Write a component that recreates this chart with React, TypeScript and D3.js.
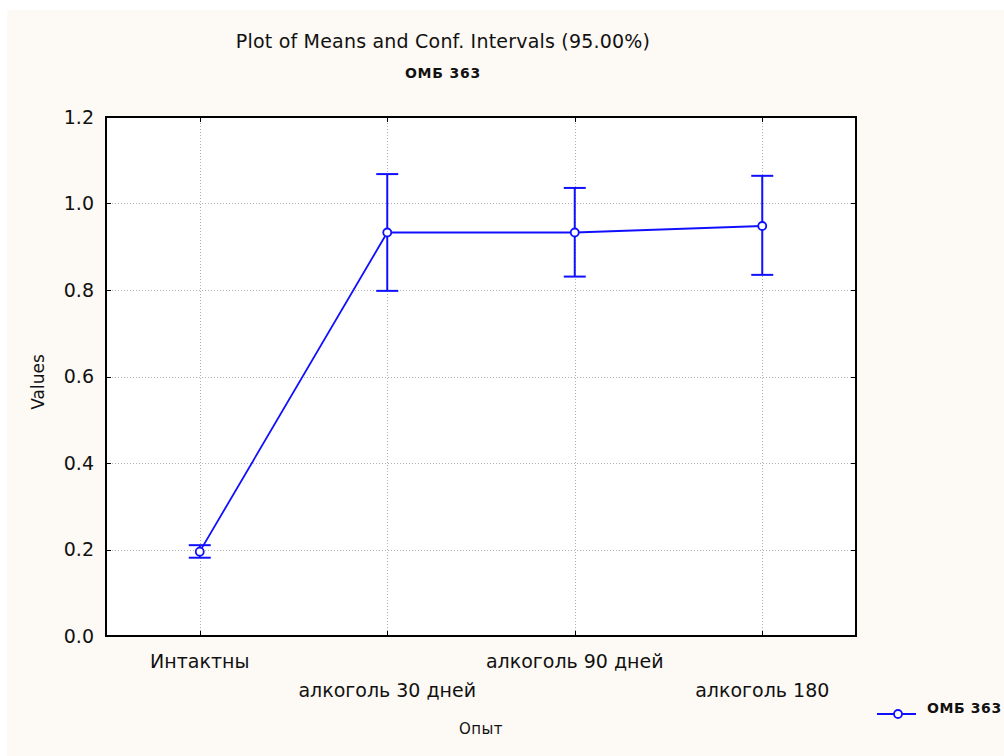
import { useEffect, useRef } from 'react';
import * as d3 from 'd3';

// categories and values
const groups = ['Интактны', 'алкоголь 30 дней', 'алкоголь 90 дней', 'алкоголь 180'];
const means = [0.195, 0.933, 0.933, 0.948];
const lowerCI = [0.181, 0.798, 0.831, 0.835];
const upperCI = [0.210, 1.068, 1.036, 1.064];
const yTicks = [0.0, 0.2, 0.4, 0.6, 0.8, 1.0, 1.2];
const seriesName = 'ОМБ 363';

const W = 1004;
const H = 756;
const blue = '#1010ff';
const font = '"DejaVu Sans", Verdana, sans-serif';

const App = () => {
  const svgRef = useRef<SVGSVGElement | null>(null);

  useEffect(() => {
    if (!svgRef.current) return;
    const svg = d3.select(svgRef.current);
    svg.selectAll('*').remove();

    const plot = { left: 106, top: 117, right: 856, bottom: 636 };

    // background
    svg.append('rect')
      .attr('x', 7).attr('y', 10)
      .attr('width', W - 7).attr('height', H - 10)
      .attr('fill', '#fdf9f4');

    const x = d3.scalePoint<string>()
      .domain(groups)
      .range([plot.left, plot.right])
      .padding(0.5);

    const y = d3.scaleLinear()
      .domain([0, 1.2])
      .range([plot.bottom, plot.top]);

    svg.append('rect')
      .attr('x', plot.left).attr('y', plot.top)
      .attr('width', plot.right - plot.left)
      .attr('height', plot.bottom - plot.top)
      .attr('fill', '#ffffff');

    // grid
    const grid = svg.append('g')
      .attr('stroke', '#b0b0b0')
      .attr('stroke-width', 1)
      .attr('stroke-dasharray', '1,2');
    grid.selectAll('line.h')
      .data(yTicks.slice(1, -1))
      .join('line')
      .attr('x1', plot.left).attr('x2', plot.right)
      .attr('y1', d => Math.round(y(d)) + 0.5).attr('y2', d => Math.round(y(d)) + 0.5);
    grid.selectAll('line.v')
      .data(groups)
      .join('line')
      .attr('x1', d => Math.round(x(d)!) + 0.5).attr('x2', d => Math.round(x(d)!) + 0.5)
      .attr('y1', plot.top).attr('y2', plot.bottom);

    // tick marks (inside)
    const ticks = svg.append('g').attr('stroke', '#000').attr('stroke-width', 1);
    yTicks.forEach(t => {
      const yy = Math.round(y(t)) + 0.5;
      ticks.append('line').attr('x1', plot.left).attr('x2', plot.left + 5).attr('y1', yy).attr('y2', yy);
      ticks.append('line').attr('x1', plot.right - 5).attr('x2', plot.right).attr('y1', yy).attr('y2', yy);
    });
    groups.forEach(g => {
      const xx = Math.round(x(g)!) + 0.5;
      ticks.append('line').attr('x1', xx).attr('x2', xx).attr('y1', plot.bottom - 5).attr('y2', plot.bottom);
      ticks.append('line').attr('x1', xx).attr('x2', xx).attr('y1', plot.top).attr('y2', plot.top + 5);
    });

    // frame
    svg.append('rect')
      .attr('x', plot.left).attr('y', plot.top)
      .attr('width', plot.right - plot.left)
      .attr('height', plot.bottom - plot.top)
      .attr('fill', 'none')
      .attr('stroke', '#000')
      .attr('stroke-width', 2);

    // y tick labels
    svg.append('g')
      .selectAll('text')
      .data(yTicks)
      .join('text')
      .attr('x', plot.left - 12)
      .attr('y', d => y(d))
      .attr('dy', '0.36em')
      .attr('text-anchor', 'end')
      .attr('font-family', font)
      .attr('font-size', 19)
      .attr('fill', '#111')
      .text(d => d.toFixed(1));

    // x tick labels, staggered
    svg.append('g')
      .selectAll('text')
      .data(groups)
      .join('text')
      .attr('x', d => x(d)!)
      .attr('y', (d, i) => (i % 2 === 0 ? 668 : 697))
      .attr('text-anchor', 'middle')
      .attr('font-family', font)
      .attr('font-size', 19)
      .attr('fill', '#111')
      .text(d => d);

    // axis titles
    svg.append('text')
      .attr('x', 481).attr('y', 734)
      .attr('text-anchor', 'middle')
      .attr('font-family', font)
      .attr('font-size', 15)
      .attr('letter-spacing', 0.5)
      .attr('fill', '#111')
      .text('Опыт');
    svg.append('text')
      .attr('transform', 'translate(44,382) rotate(-90)')
      .attr('text-anchor', 'middle')
      .attr('font-family', font)
      .attr('font-size', 17)
      .attr('fill', '#111')
      .text('Values');

    // titles
    svg.append('text')
      .attr('x', 443).attr('y', 48)
      .attr('text-anchor', 'middle')
      .attr('font-family', font)
      .attr('font-size', 19)
      .attr('letter-spacing', 0.2)
      .attr('fill', '#111')
      .text('Plot of Means and Conf. Intervals (95.00%)');
    svg.append('text')
      .attr('x', 443).attr('y', 78)
      .attr('text-anchor', 'middle')
      .attr('font-family', font)
      .attr('font-size', 14)
      .attr('font-weight', 600)
      .attr('letter-spacing', 0.8)
      .attr('fill', '#111')
      .text(seriesName);

    // error bars
    const capHalf = 11;
    const bars = svg.append('g').attr('stroke', blue).attr('stroke-width', 2);
    groups.forEach((g, i) => {
      const xx = x(g)!;
      bars.append('line').attr('x1', xx).attr('x2', xx).attr('y1', y(lowerCI[i])).attr('y2', y(upperCI[i]));
      bars.append('line').attr('x1', xx - capHalf).attr('x2', xx + capHalf).attr('y1', y(upperCI[i])).attr('y2', y(upperCI[i]));
      bars.append('line').attr('x1', xx - capHalf).attr('x2', xx + capHalf).attr('y1', y(lowerCI[i])).attr('y2', y(lowerCI[i]));
    });

    // means line
    const line = d3.line<number>()
      .x((d, i) => x(groups[i])!)
      .y(d => y(d));
    svg.append('path')
      .datum(means)
      .attr('d', line)
      .attr('fill', 'none')
      .attr('stroke', blue)
      .attr('stroke-width', 1.8);

    svg.append('g')
      .selectAll('circle')
      .data(means)
      .join('circle')
      .attr('cx', (d, i) => x(groups[i])!)
      .attr('cy', d => y(d))
      .attr('r', 4)
      .attr('fill', '#fff')
      .attr('stroke', blue)
      .attr('stroke-width', 1.8);

    // legend
    const lg = svg.append('g');
    lg.append('line')
      .attr('x1', 877).attr('x2', 916).attr('y1', 714).attr('y2', 714)
      .attr('stroke', blue).attr('stroke-width', 2);
    lg.append('circle')
      .attr('cx', 898).attr('cy', 714).attr('r', 4)
      .attr('fill', '#fff').attr('stroke', blue).attr('stroke-width', 1.8);
    lg.append('text')
      .attr('x', 927).attr('y', 708)
      .attr('dy', '0.36em')
      .attr('font-family', font)
      .attr('font-size', 14)
      .attr('font-weight', 600)
      .attr('letter-spacing', 0.6)
      .attr('fill', '#111')
      .text(seriesName);
  }, []);

  return (
    <div style={{ position: 'fixed', left: 0, top: 0, width: W, height: H, background: '#ffffff' }}>
      <svg ref={svgRef} width={W} height={H} style={{ display: 'block' }} />
    </div>
  );
};

export default App;
